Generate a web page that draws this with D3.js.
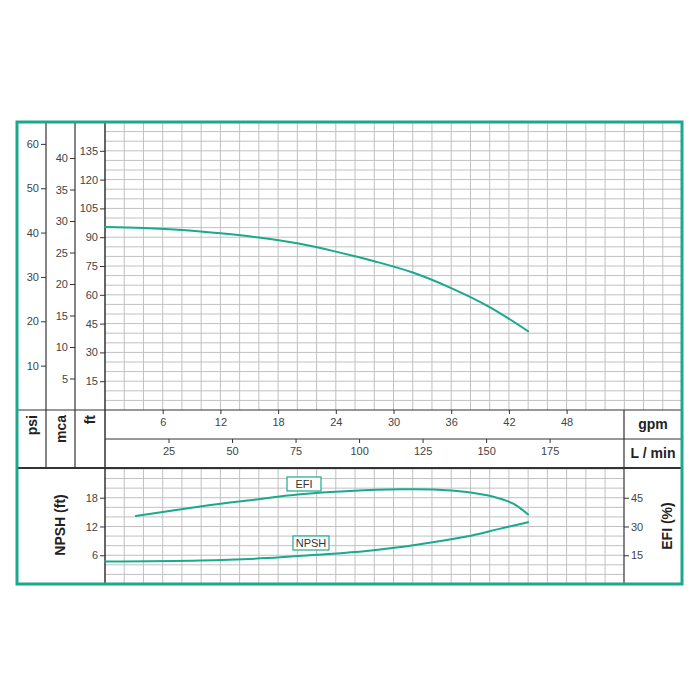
<!DOCTYPE html>
<html>
<head>
<meta charset="utf-8">
<script src="https://cdn.jsdelivr.net/npm/d3@7"></script>
<style>
  body { margin: 0; background: #fff; }
  svg text { font-family: "Liberation Sans", Arial, sans-serif; fill: #444; }
</style>
</head>
<body>
<svg id="chart" width="700" height="700"></svg>
<script>
// curve data (x in gpm)
var headGpm = [0, 4, 8, 12, 16, 20, 24, 28, 32, 36, 40, 44];
var headFt = [95.3, 94.8, 93.8, 92, 89.8, 86.8, 82.5, 77.5, 71.6, 63.5, 53.6, 41];
var efiGpm = [3.2, 9.9, 15.1, 20.3, 25.5, 30.7, 34.1, 37.6, 40.3, 42.4, 44];
var efiPct = [35.5, 40.4, 43.7, 46.8, 48.5, 49.4, 49.3, 48, 45.6, 42, 36.3];
var npshGpm = [0, 9.9, 16.8, 22, 27.2, 32.4, 37.6, 41, 44];
var npshFt = [4.7, 4.9, 5.4, 6.1, 6.9, 8.2, 9.9, 11.5, 12.9];

var gpmTicks = [6, 12, 18, 24, 30, 36, 42, 48];
var lpmTicks = [25, 50, 75, 100, 125, 150, 175];
var ftTicks = [15, 30, 45, 60, 75, 90, 105, 120, 135];
var mcaTicks = [5, 10, 15, 20, 25, 30, 35, 40];
var psiTicks = [10, 20, 30, 40, 50, 60];
var npshTicks = [6, 12, 18];
var efiTicks = [15, 30, 45];

var teal = "#1ba98c", dark = "#333", grid = "#c0c0c0";
var svg = d3.select("#chart");

var L = 17, R = 682, T = 122, B = 584;
var colPsi = 46, colMca = 75, plotL = 105, plotR2 = 624;
var yHeadB = 410, yGpmB = 439, yLpmB = 468;

var x = d3.scaleLinear().domain([0, 60]).range([plotL, R]);
var xL = d3.scaleLinear().domain([0, 60 * 3.785]).range([plotL, R]);
var yFt = d3.scaleLinear().domain([0, 150]).range([yHeadB, T]);
var yPsi = d3.scaleLinear().domain([0, 150 / 2.31]).range([yHeadB, T]);
var yMca = d3.scaleLinear().domain([0, 150 / 3.281]).range([yHeadB, T]);
var yN = d3.scaleLinear().domain([0, 24.2]).range([B, yLpmB]);
var yE = d3.scaleLinear().domain([0, 60.5]).range([B, yLpmB]);

// grids
var g = svg.append("g").attr("stroke", grid).attr("stroke-width", 1);
g.selectAll(".vu").data(d3.range(2, 60, 2)).enter().append("line")
  .attr("x1", function (d) { return x(d); }).attr("x2", function (d) { return x(d); })
  .attr("y1", T).attr("y2", yHeadB);
g.selectAll(".hu").data(d3.range(5, 150, 5)).enter().append("line")
  .attr("x1", plotL).attr("x2", R)
  .attr("y1", function (d) { return yFt(d); }).attr("y2", function (d) { return yFt(d); });
g.selectAll(".vl").data(d3.range(2, 54, 2)).enter().append("line")
  .attr("x1", function (d) { return x(d); }).attr("x2", function (d) { return x(d); })
  .attr("y1", yLpmB).attr("y2", B);
g.selectAll(".hl").data(d3.range(2, 24.2, 2)).enter().append("line")
  .attr("x1", plotL).attr("x2", plotR2)
  .attr("y1", function (d) { return yN(d); }).attr("y2", function (d) { return yN(d); });

// frame lines
function line(x1, y1, x2, y2, w) {
  svg.append("line").attr("x1", x1).attr("y1", y1).attr("x2", x2).attr("y2", y2)
    .attr("stroke", dark).attr("stroke-width", w || 1.2);
}
line(colPsi, T, colPsi, yLpmB);
line(colMca, T, colMca, yLpmB);
line(plotL, T, plotL, B, 1.5);
line(plotR2, yHeadB, plotR2, B);
line(L, yHeadB, R, yHeadB);
line(plotL, yGpmB, R, yGpmB);
line(L, yLpmB, R, yLpmB, 2);

// axes
function styleAxis(sel) {
  sel.select(".domain").remove();
  sel.selectAll(".tick line").attr("stroke", dark);
  sel.selectAll(".tick text").attr("fill", "#444").style("font-size", "11px")
    .style("font-family", "'Liberation Sans', Arial, sans-serif");
}
svg.append("g").attr("transform", "translate(" + colPsi + ",0)")
  .call(d3.axisLeft(yPsi).tickValues(psiTicks).tickSize(5).tickPadding(2)).call(styleAxis);
svg.append("g").attr("transform", "translate(" + colMca + ",0)")
  .call(d3.axisLeft(yMca).tickValues(mcaTicks).tickSize(5).tickPadding(2)).call(styleAxis);
svg.append("g").attr("transform", "translate(" + plotL + ",0)")
  .call(d3.axisLeft(yFt).tickValues(ftTicks).tickSize(5).tickPadding(2)).call(styleAxis);
svg.append("g").attr("transform", "translate(0," + yHeadB + ")")
  .call(d3.axisBottom(x).tickValues(gpmTicks).tickSize(4).tickPadding(4)).call(styleAxis);
svg.append("g").attr("transform", "translate(0," + yGpmB + ")")
  .call(d3.axisBottom(xL).tickValues(lpmTicks).tickSize(4).tickPadding(4)).call(styleAxis);
svg.append("g").attr("transform", "translate(" + plotL + ",0)")
  .call(d3.axisLeft(yN).tickValues(npshTicks).tickSize(5).tickPadding(2)).call(styleAxis);
svg.append("g").attr("transform", "translate(" + plotR2 + ",0)")
  .call(d3.axisRight(yE).tickValues(efiTicks).tickSize(5).tickPadding(2)).call(styleAxis);

// bold titles
function title(txt, cx, cy, rot, anchor) {
  svg.append("text").text(txt)
    .attr("transform", "translate(" + cx + "," + cy + ")" + (rot ? " rotate(-90)" : ""))
    .attr("text-anchor", anchor || "middle").attr("dy", "0.35em")
    .style("font-size", "14px").style("font-weight", "bold").style("fill", "#222");
}
title("psi", 32, 415, true, "end");
title("mca", 61, 415, true, "end");
title("ft", 90, 415, true, "end");
title("gpm", 653, 424);
title("L / min", 653, 453);
title("NPSH (ft)", 60, 525, true);
title("EFI (%)", 667, 526, true);

// curves
var lineGen = d3.line().curve(d3.curveCatmullRom.alpha(0.5));
function curve(xs, ys, ys2) {
  svg.append("path")
    .attr("d", lineGen(xs.map(function (d, i) { return [x(d), ys2(ys[i])]; })))
    .attr("fill", "none").attr("stroke", teal).attr("stroke-width", 2)
    .attr("stroke-linecap", "round");
}
curve(headGpm, headFt, yFt);
curve(efiGpm, efiPct, yE);
curve(npshGpm, npshFt, yN);

// curve labels
function tag(txt, bx, by, w) {
  svg.append("rect").attr("x", bx).attr("y", by).attr("width", w).attr("height", 14)
    .attr("fill", "#fff").attr("stroke", teal).attr("stroke-width", 1.2);
  svg.append("text").text(txt).attr("x", bx + w / 2).attr("y", by + 7).attr("dy", "0.35em")
    .attr("text-anchor", "middle").style("font-size", "11px").style("fill", "#333");
}
tag("EFI", 287, 477, 34);
tag("NPSH", 293, 536, 36);

// outer border
svg.append("rect").attr("x", L).attr("y", T).attr("width", R - L).attr("height", B - T)
  .attr("fill", "none").attr("stroke", teal).attr("stroke-width", 3);
</script>
</body>
</html>
